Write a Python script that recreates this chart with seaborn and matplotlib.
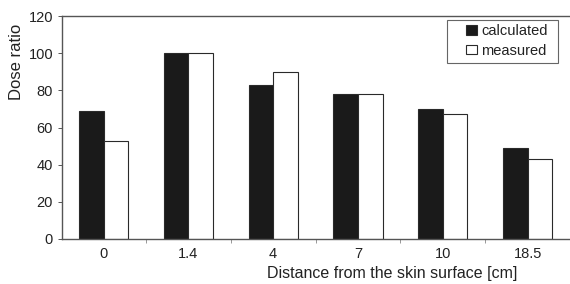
import matplotlib
matplotlib.use("Agg")
import matplotlib.pyplot as plt
import seaborn as sns
import pandas as pd
from matplotlib.ticker import FixedLocator
from matplotlib.patches import Rectangle

categories = ["0", "1.4", "4", "7", "10", "18.5"]
calculated = [69, 100, 83, 78, 70, 49]
measured = [53, 100, 90, 78, 67, 43]
series_names = ["calculated", "measured"]

df = pd.DataFrame({
    "distance": categories * 2,
    "dose": calculated + measured,
    "series": [series_names[0]] * len(categories) + [series_names[1]] * len(categories),
})

sns.set_style("white")
plt.rcParams["font.family"] = ["Liberation Sans", "DejaVu Sans"]
plt.rcParams["font.size"] = 10.5

W, H = 570, 284
fig = plt.figure(figsize=(W / 100, H / 100), dpi=100)
ax = fig.add_axes([62 / W, 1 - 239 / H, 508 / W, 223 / H])

sns.barplot(data=df, x="distance", y="dose", hue="series", order=categories,
            hue_order=series_names, palette={"calculated": "#1a1a1a", "measured": "#ffffff"},
            width=0.58, edgecolor="#2a2a2a", linewidth=0.8, ax=ax, legend=True)

ax.set_xlim(-0.49, 5.5)
ax.set_ylim(0, 120)
ax.set_yticks(range(0, 121, 20))
ax.xaxis.set_minor_locator(FixedLocator([i + 0.5 for i in range(-1, 6)]))
ax.tick_params(axis="x", which="major", bottom=False, length=0, labelsize=10.5,
               labelcolor="#222222", pad=6)
ax.tick_params(axis="x", which="minor", bottom=True, length=3, width=0.6,
               color="#888888", direction="out")
ax.tick_params(axis="y", which="major", left=True, length=3, width=0.7, color="#555555",
               labelsize=10.5, labelcolor="#222222", direction="out", pad=3.4)

for s in ["left", "top", "bottom"]:
    ax.spines[s].set_visible(True)
    ax.spines[s].set_color("#555555")
    ax.spines[s].set_linewidth(1.0)
ax.spines["right"].set_visible(False)

ax.set_xlabel("Distance from the skin surface [cm]", fontsize=11.5, color="#222222")
ax.xaxis.set_label_coords(0.649, -0.12)
ax.set_ylabel("Dose ratio", fontsize=12, color="#222222")
ax.yaxis.set_label_coords(-0.075, 0.794)

# legend box
box = Rectangle((447 / W, 1 - 63 / H), (558 - 447) / W, (63 - 20) / H,
                transform=fig.transFigure, fill=True, facecolor="white",
                edgecolor="#666666", linewidth=0.8, zorder=5, clip_on=False)
ax.add_patch(box)
leg = ax.legend(title=None, loc="upper left", bbox_to_anchor=(466 / W, 1 - 24 / H),
                bbox_transform=fig.transFigure, frameon=False, fontsize=10.5,
                handlelength=0.72, handleheight=0.62, handletextpad=0.3,
                borderpad=0, borderaxespad=0, labelspacing=0.4)
leg.set_zorder(6)
for t in leg.get_texts():
    t.set_color("#222222")

fig.savefig("out.png", dpi=100)
